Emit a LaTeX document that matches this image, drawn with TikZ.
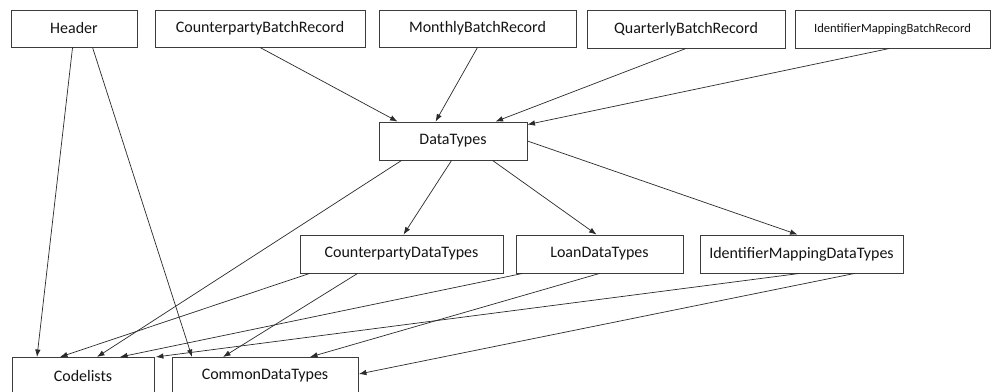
\documentclass[tikz,border=0pt]{standalone}
\usepackage{fontspec}
\setmainfont{Carlito}
\usetikzlibrary{arrows.meta,calc}
\definecolor{boxline}{HTML}{3C3C3C}
\definecolor{arrline}{HTML}{2A2A2A}
\tikzset{
  lbl/.style={font=\fontsize{16}{18}\selectfont, text=black!92},
  box/.style={draw=boxline, line width=0.9pt, fill=white, rectangle, inner sep=0pt, lbl},
  arr/.style={draw=arrline, line width=0.7pt, -{Latex[length=7.5pt,width=5.5pt]}}
}
\begin{document}
\begin{tikzpicture}[x=1pt,y=-1pt]
\useasboundingbox (0,0) rectangle (992,391);
\fill[white] (0,0) rectangle (992,391);
% top row
\node[box, minimum width=126pt, minimum height=37pt] (hdr) at (74,28.5) {Header};
\node[box, minimum width=210pt, minimum height=37pt] (cbr) at (260,28.5) {CounterpartyBatchRecord};
\node[box, minimum width=197pt, minimum height=37pt] (mbr) at (477.5,28.5) {MonthlyBatchRecord};
\node[box, minimum width=198pt, minimum height=38pt] (qbr) at (686,29) {QuarterlyBatchRecord};
\node[box, minimum width=195pt, minimum height=38pt, font=\fontsize{12.6}{14}\selectfont] (imbr) at (892.5,29) {IdentifierMappingBatchRecord};
% middle
\node[box, minimum width=148pt, minimum height=38pt] (dt) at (453,141) {DataTypes};
% third row
\node[box, minimum width=203pt, minimum height=38pt] (cdt) at (401.5,254) {CounterpartyDataTypes};
\node[box, minimum width=167pt, minimum height=38pt] (ldt) at (599.5,254) {LoanDataTypes};
\node[box, minimum width=203pt, minimum height=38pt] (idt) at (801.5,254) {IdentifierMappingDataTypes};
% bottom row (cut off)
\node[box, minimum width=142pt, minimum height=40pt, anchor=north west] (cl) at (12,357) {};
\node[lbl] (cltxt) at ($(cl.north west)+(71,19)$) {Codelists};
\node[box, minimum width=186pt, minimum height=40pt, anchor=north west] (com) at (172,357) {};
\node[lbl] (comtxt) at ($(com.north west)+(93,19)$) {CommonDataTypes};
% Header arrows
\draw[arr] ([xshift=62pt]hdr.south west) -- ([xshift=25pt]cl.north west);
\draw[arr] ([xshift=82pt]hdr.south west) -- ([xshift=20pt]com.north west);
% batch records to DataTypes
\draw[arr] (cbr.south) -- ([xshift=19pt]dt.north west);
\draw[arr] (mbr.south) -- ([xshift=57pt]dt.north west);
\draw[arr] (qbr.south) -- ([xshift=117pt]dt.north west);
\draw[arr] ([xshift=95pt]imbr.south west) -- ([yshift=-3pt]dt.north east);
% DataTypes out
\draw[arr] ([xshift=23pt]dt.south west) -- ([xshift=85pt]cl.north west);
\draw[arr] ([xshift=73pt]dt.south west) -- ([xshift=104pt]cdt.north west);
\draw[arr] ([xshift=114pt]dt.south west) -- ([xshift=81pt]ldt.north west);
\draw[arr] (dt.east) -- ([xshift=98pt]idt.north west);
% third row out
\draw[arr] ([xshift=10pt]cdt.south west) -- ([xshift=48pt]cl.north west);
\draw[arr] ([xshift=58pt]cdt.south west) -- ([xshift=51pt]com.north west);
\draw[arr] ([xshift=7pt]ldt.south west) -- ([xshift=108pt]cl.north west);
\draw[arr] ([xshift=84pt]ldt.south west) -- ([xshift=138pt]com.north west);
\draw[arr] ([xshift=100pt]idt.south west) -- ([xshift=1pt]cl.north east);
\draw[arr] ([xshift=155pt]idt.south west) -- ([yshift=-17pt]com.north east);
\end{tikzpicture}
\end{document}
